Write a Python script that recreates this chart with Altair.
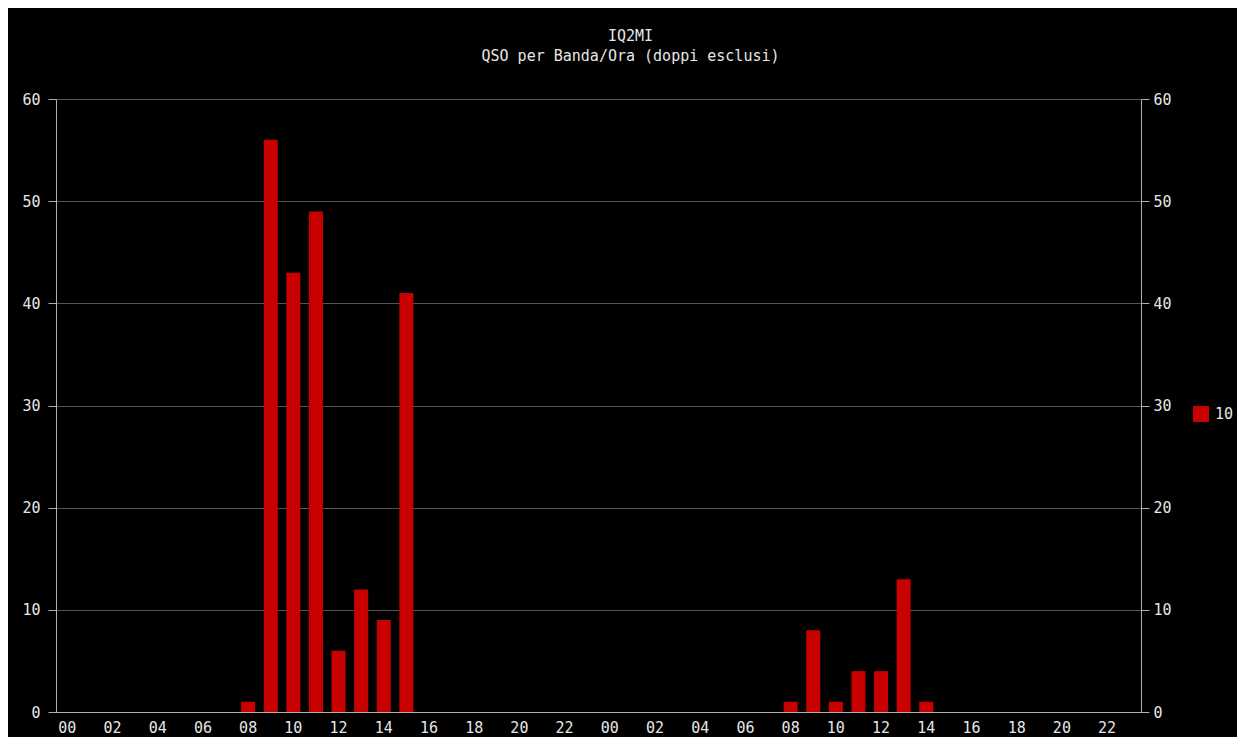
import altair as alt
import pandas as pd

# ---- data ----
title_text = "IQ2MI"
subtitle_text = "QSO per Banda/Ora (doppi esclusi)"
band = "10"
hours = ["00", "01", "02", "03", "04", "05", "06", "07", "08", "09", "10", "11",
         "12", "13", "14", "15", "16", "17", "18", "19", "20", "21", "22", "23"]
day1_qso = [0, 0, 0, 0, 0, 0, 0, 0, 1, 56, 43, 49, 6, 12, 9, 41, 0, 0, 0, 0, 0, 0, 0, 0]
day2_qso = [0, 0, 0, 0, 0, 0, 0, 0, 1, 8, 1, 4, 4, 13, 1, 0, 0, 0, 0, 0, 0, 0, 0, 0]
y_ticks = [0, 10, 20, 30, 40, 50, 60]

# ---- build table ----
rows = []
slot_keys = []
for d, vals in ((1, day1_qso), (2, day2_qso)):
    for h, v in zip(hours, vals):
        key = f"{d}-{h}"
        slot_keys.append(key)
        rows.append({"slot": key, "qso": v, "banda": band})
df = pd.DataFrame(rows)
label_keys = [k for k in slot_keys if int(k[-2:]) % 2 == 0]

FONT = "DejaVu Sans Mono"
TXT = "#e6e6e6"
GRID = "#555555"
DOMAIN = "#b0b0b0"
RED = "#c80000"

x_enc = alt.X(
    "slot:N",
    scale=alt.Scale(domain=slot_keys, paddingInner=0.38, paddingOuter=0.19),
    axis=alt.Axis(
        values=label_keys,
        labelExpr="slice(datum.value, -2)",
        labelAngle=0,
        ticks=False,
        title=None,
        grid=False,
        domainColor=DOMAIN,
        labelPadding=8,
    ),
)

color_enc = alt.Color(
    "banda:N",
    scale=alt.Scale(domain=[band], range=[RED]),
    legend=alt.Legend(
        title=None,
        orient="none",
        legendX=1137,
        legendY=307,
        symbolType="square",
        symbolSize=256,
        symbolStrokeWidth=0,
        symbolOpacity=1,
        labelFontSize=15,
        labelFont=FONT,
        labelColor=TXT,
        labelOffset=6,
        padding=0,
    ),
)

bars_left = alt.Chart(df).mark_bar(opacity=1).encode(
    x=x_enc,
    y=alt.Y(
        "qso:Q",
        scale=alt.Scale(domain=[0, 60], nice=False),
        axis=alt.Axis(
            orient="left",
            values=y_ticks,
            title=None,
            grid=True,
            gridColor=GRID,
            tickSize=8,
            tickColor=DOMAIN,
            domainColor=DOMAIN,
            labelPadding=8,
        ),
    ),
    color=color_enc,
)

bars_right = alt.Chart(df).mark_bar(opacity=0).encode(
    x=x_enc,
    y=alt.Y(
        "qso:Q",
        scale=alt.Scale(domain=[0, 60], nice=False),
        axis=alt.Axis(
            orient="right",
            values=y_ticks,
            title=None,
            grid=False,
            tickSize=8,
            tickColor=DOMAIN,
            domainColor=DOMAIN,
            labelPadding=4,
        ),
    ),
    color=color_enc,
)

chart = (
    alt.layer(bars_left, bars_right)
    .resolve_scale(y="independent")
    .properties(
        width=1085,
        height=613,
        autosize=alt.AutoSizeParams(type="none"),
        padding={"left": 48, "top": 91, "right": 96, "bottom": 25},
        background="#000000",
        title=alt.TitleParams(
            text=title_text,
            subtitle=subtitle_text,
            anchor="middle",
            frame="group",
            dx=32,
            offset=28,
            font=FONT,
            fontSize=15,
            fontWeight="normal",
            color=TXT,
            subtitleFont=FONT,
            subtitleFontSize=15,
            subtitleColor=TXT,
            subtitlePadding=5,
        ),
    )
    .configure_view(stroke=None)
    .configure_axis(
        labelFont=FONT,
        labelFontSize=15,
        labelColor=TXT,
    )
)

chart.save("out.html", embed_options={"renderer": "svg", "actions": False})
